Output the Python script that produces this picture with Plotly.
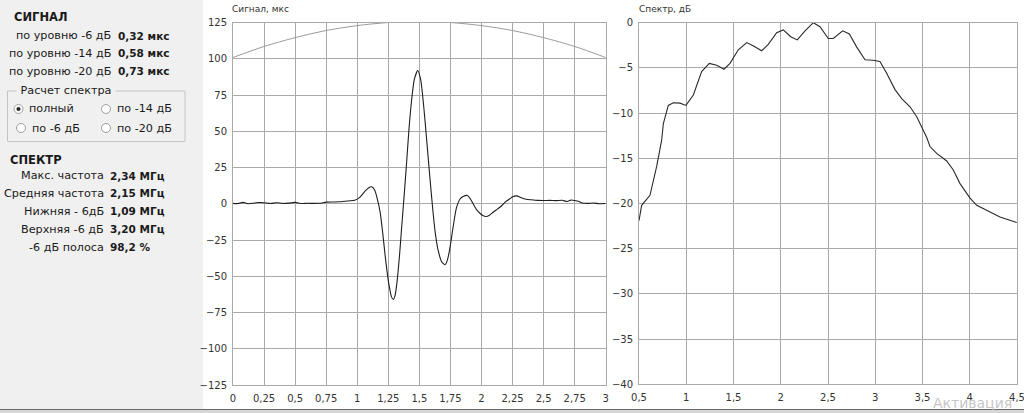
import plotly.graph_objects as go

W, H = 1024, 413

# ---------------- data ----------------
sig_t = [0, 0.04, 0.08, 0.12, 0.16, 0.2, 0.25, 0.3, 0.35, 0.4, 0.45, 0.5, 0.55, 0.6, 0.65, 0.7,
         0.75, 0.8, 0.86, 0.93, 0.98, 1.02, 1.06, 1.09, 1.117, 1.14, 1.16, 1.185, 1.205, 1.225,
         1.245, 1.26, 1.275, 1.291, 1.305, 1.32, 1.34, 1.357, 1.377, 1.397, 1.417, 1.437, 1.46,
         1.487, 1.51, 1.525, 1.545, 1.563, 1.585, 1.606, 1.628, 1.651, 1.68, 1.707, 1.725, 1.745,
         1.77, 1.798, 1.825, 1.852, 1.887, 1.91, 1.933, 1.96, 1.987, 2.01, 2.037, 2.065, 2.094,
         2.13, 2.161, 2.195, 2.228, 2.255, 2.284, 2.32, 2.36, 2.40, 2.45, 2.5, 2.55, 2.6, 2.65,
         2.69, 2.72, 2.75, 2.78, 2.81, 2.85, 2.9, 2.95, 3.0]
sig_v = [0.3, 0.2, 1.0, 0.1, 0.4, 0.9, 0.8, 0.2, 0.8, 0.3, 0.5, 1.0, 0.2, 0.4, 0.3, 0.4,
         1.2, 1.3, 1.4, 2.0, 2.5, 4.5, 8.5, 11.0, 11.8, 9.5, 4.0, -6.0, -20.0, -36.0,
         -50.0, -58.0, -64.0, -66.0, -63.0, -54.0, -36.0, -17.0, 5.0, 28.0, 52.0, 71.0, 86.0,
         92.0, 86.0, 76.0, 58.0, 40.0, 18.0, -2.0, -20.0, -32.0, -40.0, -42.0, -39.0, -31.0,
         -17.0, -3.0, 3.0, 5.0, 5.8, 3.5, 0.0, -4.0, -6.5, -8.0, -8.7, -7.8, -5.8,
         -3.5, -1.5, 1.5, 3.5, 5.0, 5.5, 4.2, 3.2, 2.8, 2.4, 2.3, 2.4, 2.2, 2.5,
         1.6, 2.6, 2.3, 1.8, 0.6, 0.3, 0.6, 0.1, 0.2]

env_t = [0, 0.25, 0.5, 0.75, 1.0, 1.25, 1.5, 1.75, 2.0, 2.25, 2.5, 2.75, 3.0]
env_v = [101, 108.6, 114.7, 119.6, 123, 125.1, 125.7, 125.1, 123, 119.6, 114.7, 108.6, 101]

spec_f = [0.5, 0.528, 0.616, 0.687, 0.74, 0.757, 0.81, 0.863, 0.934, 0.997, 1.075, 1.163, 1.244,
          1.322, 1.40, 1.463, 1.551, 1.64, 1.717, 1.798, 1.868, 1.957, 2.027, 2.105, 2.175,
          2.257, 2.345, 2.415, 2.503, 2.556, 2.655, 2.726, 2.804, 2.892, 2.98, 3.05, 3.121,
          3.209, 3.28, 3.368, 3.439, 3.545, 3.579, 3.65, 3.756, 3.826, 3.897, 4.003, 4.074,
          4.18, 4.32, 4.497]
spec_db = [-21.9, -20.2, -19.1, -15.9, -13.0, -11.2, -9.15, -8.85, -8.9, -9.15, -8.0, -5.4, -4.5,
           -4.7, -5.15, -4.5, -3.0, -2.2, -2.6, -3.1, -2.4, -1.1, -0.8, -1.55, -1.9,
           -0.9, 0.0, -0.45, -1.75, -1.75, -0.9, -1.25, -2.7, -4.1, -4.15, -4.3, -5.6,
           -7.4, -8.4, -9.3, -10.4, -12.7, -13.7, -14.45, -15.3, -16.3, -17.8, -19.4, -20.2,
           -20.8, -21.5, -22.1]

signal_labels = ["по уровню -6 дБ", "по уровню -14 дБ", "по уровню -20 дБ"]
signal_values = ["0,32 мкс", "0,58 мкс", "0,73 мкс"]
spectrum_labels = ["Макс. частота", "Средняя частота", "Нижняя - 6дБ", "Верхняя -6 дБ", "-6 дБ полоса"]
spectrum_values = ["2,34 МГц", "2,15 МГц", "1,09 МГц", "3,20 МГц", "98,2 %"]
radio_labels = ["полный", "по -14 дБ", "по -6 дБ", "по -20 дБ"]


def px(x):
    return x / W


def py(y):
    return 1 - y / H


FONT = "DejaVu Sans"
GRID = "#a9a9a9"
FS = 11.2

fig = go.Figure()
fig.add_trace(go.Scatter(x=env_t, y=env_v, mode="lines", line=dict(color="#9a9a9a", width=1, shape="spline", smoothing=0.8),
                         xaxis="x", yaxis="y", hoverinfo="skip"))
fig.add_trace(go.Scatter(x=sig_t, y=sig_v, mode="lines", line=dict(color="#1e1e1e", width=1.1, shape="spline", smoothing=0.6),
                         xaxis="x", yaxis="y", hoverinfo="skip"))
fig.add_trace(go.Scatter(x=spec_f, y=spec_db, mode="lines", line=dict(color="#2a2a2a", width=1.1),
                         xaxis="x2", yaxis="y2", hoverinfo="skip"))

axis_common = dict(showgrid=True, gridcolor=GRID, gridwidth=1, showline=True, mirror=True, linecolor=GRID,
                   linewidth=1, ticks="", zeroline=False, fixedrange=True, automargin=False,
                   ticklabeloverflow="allow",
                   tickfont=dict(family=FONT, size=10, color="#333333"))

shapes = [
    dict(type="rect", xref="paper", yref="paper", x0=px(203), x1=1, y0=py(409), y1=1,
         fillcolor="white", line=dict(width=0), layer="below"),
    dict(type="rect", xref="paper", yref="paper", x0=0, x1=1, y0=0, y1=py(409),
         fillcolor="#d6d6d6", line=dict(width=0), layer="above"),
    dict(type="line", xref="paper", yref="paper", x0=0, x1=1, y0=py(409.5), y1=py(409.5),
         line=dict(color="#6a6a6a", width=1), layer="above"),
    # group box
    dict(type="rect", xref="paper", yref="paper", x0=px(7.5), x1=px(185), y0=py(141.5), y1=py(91),
         line=dict(color="#c4c4c4", width=1), fillcolor="rgba(0,0,0,0)", layer="above"),
]

radio_pos = [(18.5, 109, 27), (106, 109, 115), (21, 128, 30), (106, 128, 115)]
for i, (cx, cy, tx) in enumerate(radio_pos):
    r = 4.5
    shapes.append(dict(type="circle", xref="paper", yref="paper", x0=px(cx - r), x1=px(cx + r),
                       y0=py(cy + r), y1=py(cy - r), fillcolor="white",
                       line=dict(color="#a0a0a0", width=1), layer="above"))
    if i == 0:
        r2 = 1.8
        shapes.append(dict(type="circle", xref="paper", yref="paper", x0=px(cx - r2), x1=px(cx + r2),
                           y0=py(cy + r2), y1=py(cy - r2), fillcolor="#222222",
                           line=dict(color="#222222", width=0.5), layer="above"))

ann = []


def txt(x, y, s, size=11, bold=False, anchor="left", color="#1a1a1a", bg=None, yanchor="middle"):
    a = dict(x=px(x), y=py(y), xref="paper", yref="paper", text=("<b>%s</b>" % s) if bold else s,
             showarrow=False, xanchor=anchor, yanchor=yanchor,
             font=dict(family=FONT, size=size, color=color))
    if bg:
        a["bgcolor"] = bg
        a["borderpad"] = 0
    ann.append(a)


txt(12, 17, "СИГНАЛ", size=11.5, bold=True)
for lbl, val, y in zip(signal_labels, signal_values, [35.7, 53.3, 71]):
    txt(113, y, lbl, size=FS, anchor="right")
    txt(116, y, val, size=10.5, bold=True)

txt(16, 91, " Расчет спектра ", size=FS, bg="#f0f0f0")
for (cx, cy, tx), lbl in zip(radio_pos, radio_labels):
    txt(tx, cy, lbl, size=FS)

txt(8, 160, "СПЕКТР", size=11.5, bold=True)
for lbl, val, y in zip(spectrum_labels, spectrum_values, [175.7, 193.3, 211, 229.3, 247.3]):
    txt(106, y, lbl, size=FS, anchor="right")
    txt(108, y, val, size=10.5, bold=True)

txt(230, 9, "Сигнал, мкс", size=9, color="#333333")
txt(637, 9, "Спектр, дБ", size=9, color="#333333")
txt(931, 413, "Активация", size=14, color="#c6c6c6", yanchor="bottom")

fig.update_layout(
    width=W, height=H, autosize=False,
    margin=dict(l=0, r=0, t=0, b=0, pad=0),
    paper_bgcolor="#f0f0f0", plot_bgcolor="white",
    showlegend=False, separators=", ",
    xaxis=dict(domain=[px(233), px(605.7)], range=[0, 3], tick0=0, dtick=0.25, anchor="y",
               ticklabelstandoff=4, **axis_common),
    yaxis=dict(domain=[py(385), py(22.7)], range=[-125, 125], tick0=0, dtick=25, anchor="x",
               ticklabelstandoff=3, **axis_common),
    xaxis2=dict(domain=[px(639), px(1017)], range=[0.5, 4.5], tick0=0.5, dtick=0.5, anchor="y2",
                ticklabelstandoff=4, **axis_common),
    yaxis2=dict(domain=[py(384.3), py(22.7)], range=[-40, 0], tick0=0, dtick=5, anchor="x2",
                ticklabelstandoff=3, **axis_common),
    shapes=shapes,
    annotations=ann,
)

fig.write_html("out.html", config={"displayModeBar": False, "staticPlot": True},
               post_script="document.body.style.margin='0px';document.body.style.overflow='hidden';")
